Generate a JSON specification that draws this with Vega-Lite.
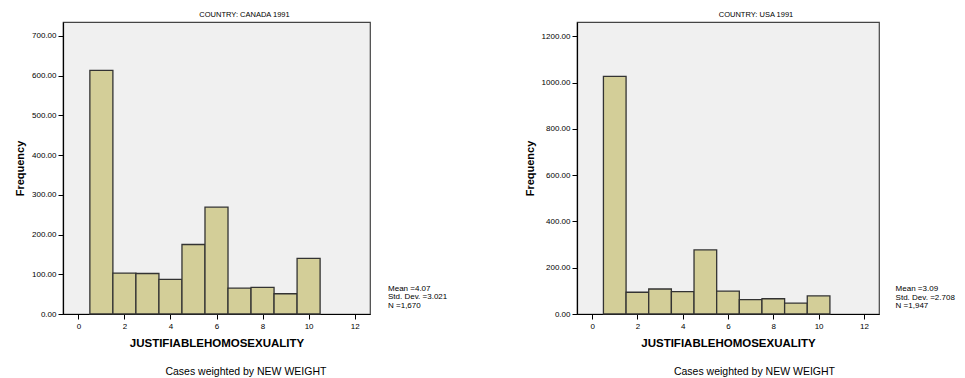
{
  "$schema": "https://vega.github.io/schema/vega-lite/v6.json",
  "background": "white",
  "padding": {"left": 13, "top": 9, "right": 0, "bottom": 0},
  "spacing": 75,
  "datasets": {
    "hist": [
      {"country": "CANADA", "bin_start": 0.5, "bin_end": 1.5, "frequency": 613},
      {"country": "CANADA", "bin_start": 1.5, "bin_end": 2.5, "frequency": 103},
      {"country": "CANADA", "bin_start": 2.5, "bin_end": 3.5, "frequency": 102},
      {"country": "CANADA", "bin_start": 3.5, "bin_end": 4.5, "frequency": 87},
      {"country": "CANADA", "bin_start": 4.5, "bin_end": 5.5, "frequency": 175},
      {"country": "CANADA", "bin_start": 5.5, "bin_end": 6.5, "frequency": 269},
      {"country": "CANADA", "bin_start": 6.5, "bin_end": 7.5, "frequency": 65},
      {"country": "CANADA", "bin_start": 7.5, "bin_end": 8.5, "frequency": 67},
      {"country": "CANADA", "bin_start": 8.5, "bin_end": 9.5, "frequency": 51},
      {"country": "CANADA", "bin_start": 9.5, "bin_end": 10.5, "frequency": 140},
      {"country": "USA", "bin_start": 0.5, "bin_end": 1.5, "frequency": 1027},
      {"country": "USA", "bin_start": 1.5, "bin_end": 2.5, "frequency": 94},
      {"country": "USA", "bin_start": 2.5, "bin_end": 3.5, "frequency": 108},
      {"country": "USA", "bin_start": 3.5, "bin_end": 4.5, "frequency": 97},
      {"country": "USA", "bin_start": 4.5, "bin_end": 5.5, "frequency": 277},
      {"country": "USA", "bin_start": 5.5, "bin_end": 6.5, "frequency": 99},
      {"country": "USA", "bin_start": 6.5, "bin_end": 7.5, "frequency": 62},
      {"country": "USA", "bin_start": 7.5, "bin_end": 8.5, "frequency": 66},
      {"country": "USA", "bin_start": 8.5, "bin_end": 9.5, "frequency": 47},
      {"country": "USA", "bin_start": 9.5, "bin_end": 10.5, "frequency": 78}
    ],
    "stats": [
      {"country": "CANADA", "label": "Mean =4.07\nStd. Dev. =3.021\nN =1,670"},
      {"country": "USA", "label": "Mean =3.09\nStd. Dev. =2.708\nN =1,947"}
    ]
  },
  "config": {
    "font": "Liberation Sans",
    "view": {"fill": "#f0f0f0", "stroke": "#444", "strokeWidth": 1.2},
    "axis": {
      "grid": false,
      "domainColor": "#000",
      "domainWidth": 1.2,
      "tickColor": "#000",
      "tickSize": 5,
      "labelFont": "Liberation Sans",
      "labelFontSize": 8,
      "labelColor": "#000",
      "titleFont": "Liberation Sans",
      "titleColor": "#000",
      "titleFontWeight": "bold"
    },
    "title": {"font": "Liberation Sans", "color": "#000", "fontWeight": "normal"}
  },
  "hconcat": [
    {
      "title": {"text": "Cases weighted by NEW WEIGHT", "orient": "bottom", "anchor": "middle", "fontSize": 10.5, "dx": 15, "offset": 18},
      "vconcat": [
        {
          "width": 307,
          "height": 292,
          "title": {"text": "COUNTRY: CANADA 1991", "anchor": "middle", "fontSize": 7.5, "dx": 28, "offset": 4},
          "layer": [
            {
              "data": {"name": "hist"},
              "transform": [{"filter": "datum.country === 'CANADA'"}],
              "mark": {"type": "rect", "fill": "#d3ce98", "stroke": "#333", "strokeWidth": 1.3},
              "encoding": {
                "x": {"field": "bin_start", "type": "quantitative", "scale": {"domain": [-0.667, 12.667], "nice": false, "zero": false},
                  "axis": {"values": [0, 2, 4, 6, 8, 10, 12], "title": "JUSTIFIABLEHOMOSEXUALITY", "titleFontSize": 11.5, "labelPadding": 3, "titlePadding": 7}},
                "x2": {"field": "bin_end"},
                "y": {"field": "frequency", "type": "quantitative", "scale": {"domain": [0, 735], "nice": false},
                  "axis": {"values": [0, 100, 200, 300, 400, 500, 600, 700], "format": ".2f", "title": "Frequency", "titleFontSize": 11, "labelPadding": 2, "titlePadding": 6}}
              }
            },
            {
              "data": {"name": "stats"},
              "transform": [{"filter": "datum.country === 'CANADA'"}],
              "mark": {"type": "text", "align": "left", "baseline": "top", "lineBreak": "\n", "fontSize": 8, "lineHeight": 8.5, "font": "Liberation Sans", "color": "#000"},
              "encoding": {
                "x": {"datum": 13.45, "type": "quantitative"},
                "y": {"datum": 73, "type": "quantitative"},
                "text": {"field": "label"}
              }
            }
          ]
        }
      ]
    },
    {
      "title": {"text": "Cases weighted by NEW WEIGHT", "orient": "bottom", "anchor": "middle", "fontSize": 10.5, "dx": 15, "offset": 18},
      "vconcat": [
        {
          "width": 302,
          "height": 292,
          "title": {"text": "COUNTRY: USA 1991", "anchor": "middle", "fontSize": 7.5, "dx": 28, "offset": 4},
          "layer": [
            {
              "data": {"name": "hist"},
              "transform": [{"filter": "datum.country === 'USA'"}],
              "mark": {"type": "rect", "fill": "#d3ce98", "stroke": "#333", "strokeWidth": 1.3},
              "encoding": {
                "x": {"field": "bin_start", "type": "quantitative", "scale": {"domain": [-0.667, 12.667], "nice": false, "zero": false},
                  "axis": {"values": [0, 2, 4, 6, 8, 10, 12], "title": "JUSTIFIABLEHOMOSEXUALITY", "titleFontSize": 11.5, "labelPadding": 3, "titlePadding": 7}},
                "x2": {"field": "bin_end"},
                "y": {"field": "frequency", "type": "quantitative", "scale": {"domain": [0, 1262], "nice": false},
                  "axis": {"values": [0, 200, 400, 600, 800, 1000, 1200], "format": ".2f", "title": "Frequency", "titleFontSize": 11, "labelPadding": 2, "titlePadding": 6}}
              }
            },
            {
              "data": {"name": "stats"},
              "transform": [{"filter": "datum.country === 'USA'"}],
              "mark": {"type": "text", "align": "left", "baseline": "top", "lineBreak": "\n", "fontSize": 8, "lineHeight": 8.5, "font": "Liberation Sans", "color": "#000"},
              "encoding": {
                "x": {"datum": 13.4, "type": "quantitative"},
                "y": {"datum": 124, "type": "quantitative"},
                "text": {"field": "label"}
              }
            }
          ]
        }
      ]
    }
  ]
}
